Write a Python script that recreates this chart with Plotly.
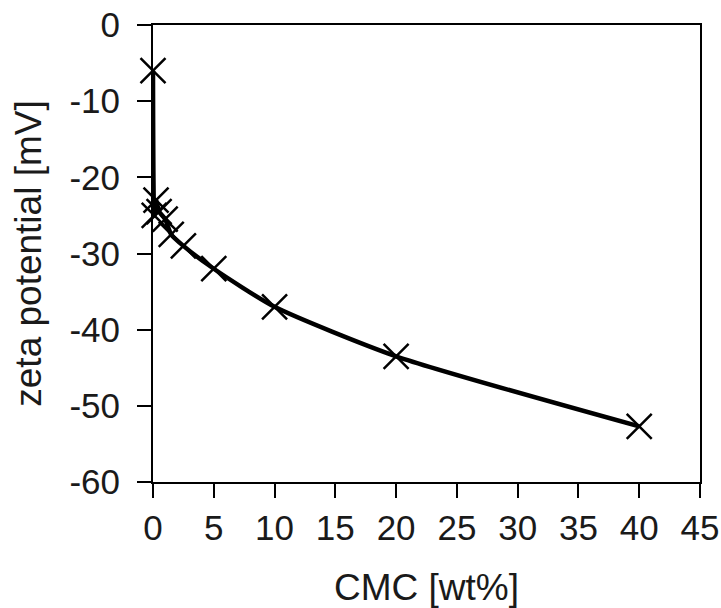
import plotly.graph_objects as go

cmc = [0, 0.1, 0.25, 0.5, 1, 1.5, 2.5, 5, 10, 20, 40]
zeta = [-6, -25, -23, -24.5, -25.5, -27.5, -29, -32, -37, -43.5, -52.7]

x_ticks = [0, 5, 10, 15, 20, 25, 30, 35, 40, 45]
y_ticks = [0, -10, -20, -30, -40, -50, -60]
y_tick_text = ["0", "-10", "-20", "-30", "-40", "-50", "-60"]

fig = go.Figure()
fig.add_trace(go.Scatter(
    x=cmc, y=zeta, mode="lines+markers",
    line=dict(color="black", width=4.5, shape="spline", smoothing=0.6),
    marker=dict(symbol="x-thin", size=25, line=dict(color="black", width=2.5)),
    showlegend=False, cliponaxis=False,
))

tick_font = dict(family="Liberation Sans, Arial, sans-serif", size=35, color="#1a1a1a")
title_font = dict(family="Liberation Sans, Arial, sans-serif", size=37, color="#1a1a1a")
axis_common = dict(
    showgrid=False, zeroline=False, showline=True, linecolor="black", linewidth=2,
    mirror=True, ticks="outside", ticklen=14, tickwidth=2, tickcolor="black",
    tickfont=tick_font, automargin=False,
)
fig.update_xaxes(range=[0, 45], tickvals=x_ticks, ticklabelstandoff=0,
                 title=dict(text="CMC [wt%]", font=title_font, standoff=34), **axis_common)
fig.update_yaxes(range=[-60, 0], tickvals=y_ticks, ticktext=y_tick_text, ticklabelstandoff=10,
                 title=dict(text="zeta potential [mV]", font=title_font, standoff=16), **axis_common)

fig.update_layout(
    width=721, height=608,
    margin=dict(l=153, r=21, t=25, b=126),
    plot_bgcolor="white", paper_bgcolor="white",
)
fig.write_html("out.html")
